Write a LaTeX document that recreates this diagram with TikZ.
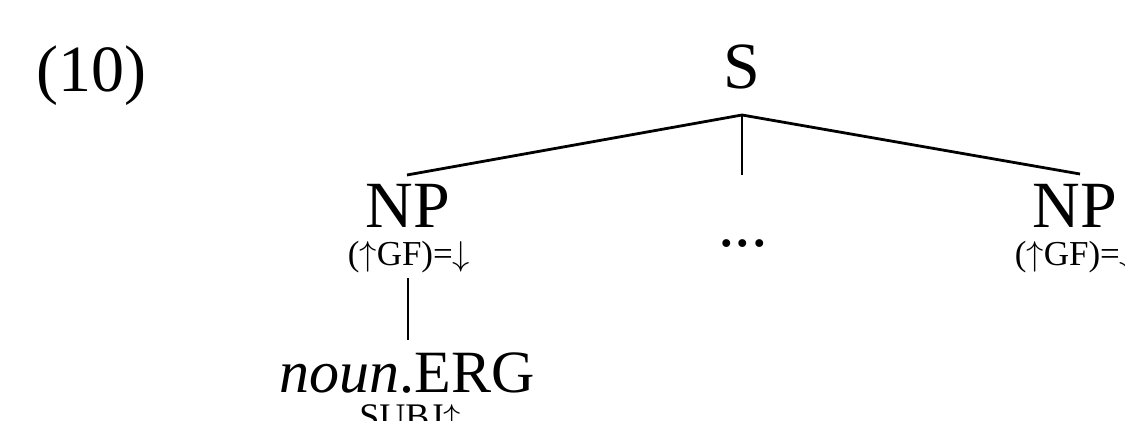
\documentclass[tikz,border=0pt]{standalone}
\usepackage{fontspec}
\setmainfont{Liberation Serif}
\newcommand{\upa}{\ensuremath{\uparrow}}
\newcommand{\dna}{\ensuremath{\downarrow}}
\begin{document}
\begin{tikzpicture}[x=0.5pt,y=-0.5pt,
  lbl/.style={inner sep=0pt,anchor=base},
  big/.style={lbl,font=\fontsize{33}{36}\selectfont},
  mid/.style={lbl,font=\fontsize{30}{33}\selectfont},
  feat/.style={lbl,font=\fontsize{17.5}{20}\selectfont},
  edge/.style={line width=1.4pt}]
\useasboundingbox (0,0) rectangle (1125,421);
\node[big,anchor=base west] (ex) at (36,92) {(10)};
\node[big] (S) at (742,89) {S};
\node[big] (NPl) at (408,228) {NP};
\node[feat] (Fl) at (409,266) {(\upa GF)=\dna};
\node[big] (dots) at (743,247) {...};
\node[big] (NPr) at (1075,228) {NP};
\node[feat] (Fr) at (1076,266) {(\upa GF)=\dna};
\node[mid] (noun) at (407,393) {\textit{noun}.ERG};
\node[lbl,font=\fontsize{18}{20}\selectfont] (subj) at (410,429) {SUBJ\upa};
\coordinate (apex) at (742,115);
\coordinate (l) at (407,175);
\coordinate (m) at (742,175);
\coordinate (r) at (1080,174);
\coordinate (vt) at (408,278);
\coordinate (vb) at (408,340);
\draw[edge] (apex) -- (l);
\draw[edge] (apex) -- (m);
\draw[edge] (apex) -- (r);
\draw[edge] (vt) -- (vb);
\end{tikzpicture}
\end{document}
